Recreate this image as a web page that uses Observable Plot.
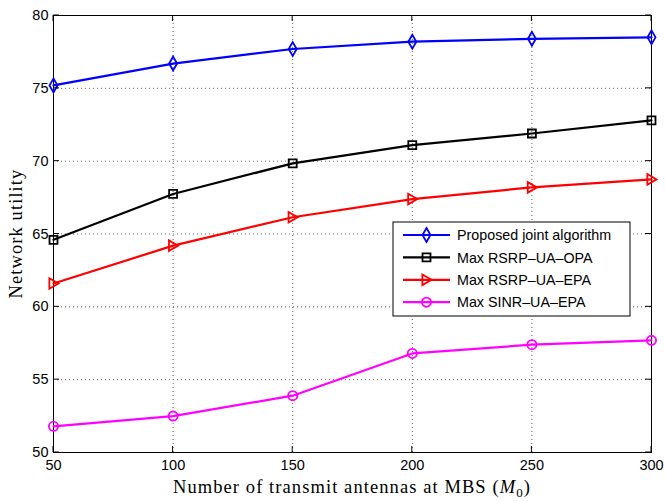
<!DOCTYPE html>
<html><head><meta charset="utf-8">
<script src="https://cdn.jsdelivr.net/npm/d3@7"></script>
<script src="https://cdn.jsdelivr.net/npm/@observablehq/plot@0.6"></script>
<style>body{margin:0;background:#fff} #chart{width:665px;height:501px}</style>
</head><body><div id="chart"></div>
<script>
// ---- data ----
const antennas = [50, 100, 150, 200, 250, 300];
const proposedJoint = [75.2, 76.7, 77.7, 78.2, 78.4, 78.5];
const maxRsrpOpa = [64.6, 67.75, 69.85, 71.1, 71.9, 72.8];
const maxRsrpEpa = [61.6, 64.2, 66.15, 67.4, 68.2, 68.75];
const maxSinrEpa = [51.8, 52.5, 53.9, 56.8, 57.4, 57.7];
const seriesNames = ["Proposed joint algorithm", "Max RSRP\u2013UA\u2013OPA", "Max RSRP\u2013UA\u2013EPA", "Max SINR\u2013UA\u2013EPA"];
const seriesColors = ["#0000ff", "#000000", "#ff0000", "#ff00ff"];
const xTicks = [50, 100, 150, 200, 250, 300];
const yTicks = [50, 55, 60, 65, 70, 75, 80];

const triangleRight = {
  draw(ctx, size) {
    const r = Math.sqrt(size / Math.PI);
    ctx.moveTo(-0.9 * r, -1.15 * r);
    ctx.lineTo(1.1 * r, 0);
    ctx.lineTo(-0.9 * r, 1.15 * r);
    ctx.closePath();
  }
};
const seriesSymbols = [d3.symbolDiamond, d3.symbolSquare, triangleRight, d3.symbolCircle];
const seriesR = [4.2, 4.5, 4.6, 4.6];

const allValues = [proposedJoint, maxRsrpOpa, maxRsrpEpa, maxSinrEpa];
const rows = [];
allValues.forEach((vals, i) => vals.forEach((v, j) => rows.push({series: seriesNames[i], x: antennas[j], y: v})));

const tickFont = 14.5;
const chart = Plot.plot({
  width: 665, height: 501,
  marginLeft: 53, marginRight: 14, marginTop: 15, marginBottom: 49,
  style: {fontFamily: "'Liberation Sans', Arial, sans-serif", fontSize: "14px", color: "black", background: "white"},
  x: {domain: [50, 300]},
  y: {domain: [50, 80]},
  color: {domain: seriesNames, range: seriesColors},
  marks: [
    Plot.gridX(xTicks, {stroke: "#666", strokeOpacity: 1, strokeWidth: 1, strokeDasharray: "1,3"}),
    Plot.gridY(yTicks, {stroke: "#666", strokeOpacity: 1, strokeWidth: 1, strokeDasharray: "1,3"}),
    Plot.axisX(xTicks, {anchor: "bottom", tickSize: 0, tickPadding: 7, fontSize: tickFont, label: null}),
    Plot.axisY(yTicks, {anchor: "left", tickSize: 0, tickPadding: 5, fontSize: tickFont, label: null}),
    Plot.frame({stroke: "black", strokeWidth: 1}),
    Plot.line(rows, {x: "x", y: "y", z: "series", stroke: "series", strokeWidth: 2.2}),
    ...seriesNames.map((name, i) => Plot.dot(rows.filter(d => d.series === name), {
      x: "x", y: "y", stroke: seriesColors[i], fill: "none", strokeWidth: 1.8, symbol: seriesSymbols[i], r: seriesR[i]
    }))
  ]
});
document.getElementById("chart").appendChild(chart);

const svg = d3.select(chart);
const sx = chart.scale("x"), sy = chart.scale("y");
const [x0, x1] = sx.range, [y0, y1] = sy.range; // y0 bottom, y1 top
const tl = 6;
// inward ticks on all four sides, placed with the chart's own scales
const tg = svg.append("g").attr("stroke", "black").attr("stroke-width", 1);
xTicks.forEach(t => {
  const px = sx.apply(t);
  tg.append("line").attr("x1", px).attr("x2", px).attr("y1", y0).attr("y2", y0 - tl);
  tg.append("line").attr("x1", px).attr("x2", px).attr("y1", y1).attr("y2", y1 + tl);
});
yTicks.forEach(t => {
  const py = sy.apply(t);
  tg.append("line").attr("y1", py).attr("y2", py).attr("x1", x0).attr("x2", x0 + tl);
  tg.append("line").attr("y1", py).attr("y2", py).attr("x1", x1).attr("x2", x1 - tl);
});

// axis titles
const serif = "'Liberation Serif', 'DejaVu Serif', serif";
const xt = svg.append("text")
  .attr("x", (x0 + x1) / 2).attr("y", 493)
  .attr("text-anchor", "middle")
  .style("font-family", serif)
  .style("font-size", "18.5px").attr("fill", "black");
xt.append("tspan").text("Number of transmit antennas at MBS (");
xt.append("tspan").style("font-style", "italic").text("M");
xt.append("tspan").attr("dy", 4).style("font-size", "13px").text("0");
xt.append("tspan").attr("dy", -4).text(")");
const natural = xt.node().getComputedTextLength();
const targetW = 358;
const nChars = xt.text().length;
const spacing = Math.max(0, (targetW - natural) / nChars);
xt.style("letter-spacing", spacing + "px");

svg.append("text")
  .attr("transform", `translate(22,${(y0 + y1) / 2}) rotate(-90)`)
  .attr("text-anchor", "middle")
  .style("font-family", serif)
  .style("font-size", "18.5px").style("letter-spacing", spacing + "px")
  .attr("fill", "black")
  .text("Network utility");

// legend
const lg = svg.append("g");
const lx = 393, ly = 222, lw = 237, lh = 94;
lg.append("rect").attr("x", lx).attr("y", ly).attr("width", lw).attr("height", lh)
  .attr("fill", "white").attr("stroke", "black").attr("stroke-width", 1);
seriesNames.forEach((name, i) => {
  const cy = ly + 13 + i * 22.4;
  lg.append("line").attr("x1", lx + 10).attr("x2", lx + 57).attr("y1", cy).attr("y2", cy)
    .attr("stroke", seriesColors[i]).attr("stroke-width", 2.2);
  lg.append("path").attr("transform", `translate(${lx + 33.5},${cy})`)
    .attr("d", d3.symbol().type(seriesSymbols[i]).size(seriesR[i] * seriesR[i] * Math.PI)())
    .attr("fill", "none").attr("stroke", seriesColors[i]).attr("stroke-width", 1.8);
  lg.append("text").attr("x", lx + 64).attr("y", cy).attr("dy", "0.36em")
    .attr("text-anchor", "start")
    .style("font-family", "'Liberation Sans', Arial, sans-serif").style("font-size", "14.3px")
    .attr("fill", "black").text(name);
});
</script></body></html>
